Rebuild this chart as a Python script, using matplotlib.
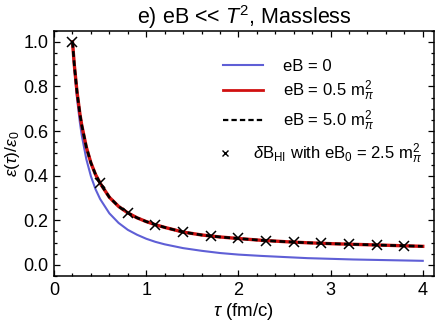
import matplotlib
matplotlib.use("Agg")
import matplotlib.pyplot as plt
from matplotlib.lines import Line2D
from matplotlib.ticker import MultipleLocator, FormatStrFormatter

plt.rcParams['font.family'] = ['Liberation Sans', 'DejaVu Sans']
plt.rcParams['mathtext.fontset'] = 'custom'
plt.rcParams['mathtext.rm'] = 'Liberation Sans'
plt.rcParams['mathtext.it'] = 'Liberation Sans:italic'
plt.rcParams['mathtext.bf'] = 'Liberation Sans:bold'

# values
tau = [0.2, 0.22, 0.25, 0.28, 0.3, 0.35, 0.4, 0.45, 0.5, 0.6, 0.7, 0.8, 0.9,
       1.0, 1.1, 1.2, 1.4, 1.6, 1.8, 2.0, 2.25, 2.5, 2.75, 3.0, 3.25, 3.5,
       3.75, 4.0]
eps_b0 = [1.0, 0.881, 0.743, 0.639, 0.582, 0.474, 0.397, 0.339, 0.295, 0.231,
          0.188, 0.157, 0.135, 0.117, 0.103, 0.092, 0.075, 0.063, 0.053,
          0.046, 0.040, 0.035, 0.030, 0.027, 0.024, 0.022, 0.020, 0.018]
eps_b05 = [1.0, 0.895, 0.772, 0.678, 0.627, 0.528, 0.457, 0.405, 0.366, 0.303,
           0.262, 0.233, 0.211, 0.194, 0.180, 0.168, 0.147, 0.134, 0.125,
           0.118, 0.110, 0.104, 0.099, 0.095, 0.092, 0.089, 0.086, 0.083]
eps_b50 = list(eps_b05)

tau_hi = [0.2, 0.5, 0.8, 1.1, 1.4, 1.7, 2.0, 2.3, 2.6, 2.9, 3.2, 3.5, 3.8]
eps_hi = [1.0, 0.369, 0.234, 0.179, 0.146, 0.130, 0.119, 0.109, 0.101,
          0.097, 0.093, 0.090, 0.085]

blue = '#5f5fd6'
red = '#d01010'

fig = plt.figure(figsize=(4.36, 3.27), dpi=100)
ax = fig.add_axes([0.124, 0.156, 0.871, 0.750])

ax.plot(tau, eps_b0, color=blue, lw=1.5)
ax.plot(tau, eps_b05, color=red, lw=2.4)
ax.plot(tau, eps_b50, color='black', lw=1.9, dashes=(2.2, 1.3))
ax.plot(tau_hi, eps_hi, ls='none', marker='x', color='black',
        markersize=7, markeredgewidth=1.1)

ax.set_xlim(0, 4.12)
ax.set_ylim(-0.05, 1.05)
ax.xaxis.set_major_locator(MultipleLocator(1))
ax.xaxis.set_minor_locator(MultipleLocator(0.2))
ax.yaxis.set_major_locator(MultipleLocator(0.2))
ax.yaxis.set_minor_locator(MultipleLocator(0.05))
ax.yaxis.set_major_formatter(FormatStrFormatter('%.1f'))
ax.tick_params(which='both', direction='in', top=True, right=True,
               labelsize=13, width=0.9)
ax.tick_params(which='major', length=4.5, pad=4)
ax.tick_params(which='minor', length=2.5)
for s in ax.spines.values():
    s.set_linewidth(1.1)

ax.set_xlabel(r'$\tau$ (fm/c)', fontsize=13.5, labelpad=2)
ax.set_ylabel(r'$\epsilon(\tau)/\epsilon_0$', fontsize=12.5, labelpad=1)
ax.set_title(r'e) eB << $T^2$, Massless', fontsize=15.5, pad=4)

h_lines = [Line2D([], [], color=blue, lw=1.5),
           Line2D([], [], color=red, lw=2.0),
           Line2D([], [], color='black', lw=1.6, dashes=(2.4, 1.4))]
l_lines = ['eB = 0', r'eB = 0.5 m$_\pi^2$', r'eB = 5.0 m$_\pi^2$']
leg1 = ax.legend(h_lines, l_lines, loc='upper left',
                 bbox_to_anchor=(0.446, 0.885), frameon=False, fontsize=12,
                 handlelength=2.4, handletextpad=1.2, labelspacing=0.3,
                 borderpad=0, borderaxespad=0)
ax.add_artist(leg1)

h_pt = [Line2D([], [], ls='none', marker='x', color='black',
               markersize=4, markeredgewidth=1.0)]
l_pt = [r'$\delta$B$_{\rm HI}$ with eB$_0$ = 2.5 m$_\pi^2$']
ax.legend(h_pt, l_pt, loc='upper left', bbox_to_anchor=(0.435, 0.55),
          frameon=False, fontsize=12, handlelength=0.7, handletextpad=1.3,
          borderpad=0, borderaxespad=0)

fig.savefig('out.png', dpi=100)
